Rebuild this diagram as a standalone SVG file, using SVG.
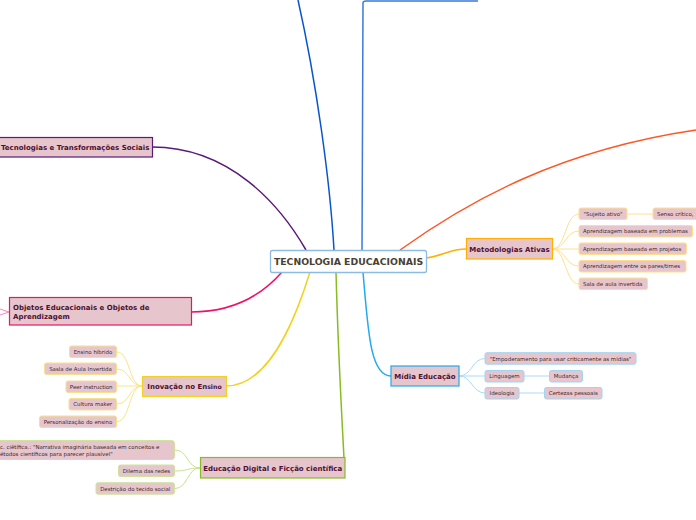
<svg xmlns="http://www.w3.org/2000/svg" width="696" height="520" viewBox="0 0 696 520">
<style>
.node{fill:#e6c6cc;stroke-width:1.2}
.t{font-family:"DejaVu Sans","Verdana",sans-serif;font-weight:bold;fill:#4d1030}
.c{fill:#e6c6cc;stroke-width:1}
.ct{font-family:"DejaVu Sans","Verdana",sans-serif;font-size:5.45px;fill:#3b2a2a;text-anchor:middle}
.conn{fill:none;stroke-width:1.5}
.sub{fill:none;stroke-width:1}
</style>
<rect width="696" height="520" fill="#ffffff"/>
<g id="connectors">
<path class="conn" stroke="#0a55cc" d="M334,250 C330,180 316,80 298,0"/>
<path class="conn" stroke="#3a7ad8" d="M362,250 L363,3 Q363,1 366,1 L478,1"/>
<path class="conn" stroke="#5a1a78" d="M152,147 C230,147 280,205 306,250"/>
<path class="conn" stroke="#ff5522" d="M400,250 C470,200 560,150 696,130"/>
<path class="conn" stroke="#ee1166" d="M282,272 C262,295 232,312 191,312"/>
<path class="conn" stroke="#f2d21e" d="M310,272 C292,330 266,386 226,386"/>
<path class="conn" stroke="#88bb22" d="M336,272 C338,350 342,420 344,458"/>
<path class="conn" stroke="#22aaee" d="M363,272 C368,330 370,376 391,376"/>
<path class="conn" stroke="#ffb000" d="M426,258 C442,256 450,249 466,249"/>
<g stroke="#ffe08c" class="sub">
<path d="M552,249 C566,249 565,214 579,214"/>
<path d="M552,249 C566,249 565,231 579,231"/>
<path d="M552,249 L579,249"/>
<path d="M552,249 C566,249 565,266 579,266"/>
<path d="M552,249 C566,249 565,284 579,284"/>
<path d="M627,214 L653,214"/>
</g>
<g stroke="#a8dcf5" class="sub">
<path d="M459,376 C472,376 472,358.5 485,358.5"/>
<path d="M459,376 L485,376"/>
<path d="M459,376 C472,376 472,393 485,393"/>
<path d="M524,376 L549,376"/>
<path d="M519,393 L544,393"/>
</g>
<g stroke="#f7e58c" class="sub">
<path d="M142,386 C129,386 130,352 117,352"/>
<path d="M142,386 C129,386 130,369 117,369"/>
<path d="M142,386 L117,386"/>
<path d="M142,386 C129,386 130,404 117,404"/>
<path d="M142,386 C129,386 130,421.5 117,421.5"/>
</g>
<g stroke="#c8e28e" class="sub">
<path d="M200,468 C187,468 188,450 175,450"/>
<path d="M200,468 C187,468 188,471 175,471"/>
<path d="M200,468 C187,468 188,488.5 175,488.5"/>
</g>
<g stroke="#f58ab8" class="sub">
<path d="M9,312 L0,309"/>
<path d="M9,312 L0,315"/>
</g>
</g>
<g id="center">
<rect x="270.5" y="250.5" width="156" height="22" rx="2" fill="#ffffff" stroke="#8cbce4" stroke-width="1.3"/>
<text x="348.5" y="265.2" class="t" font-size="9.3" style="fill:#4a3f33" text-anchor="middle">TECNOLOGIA EDUCACIONAIS</text>
</g>
<g id="tecnologias">
<rect x="-4" y="137.5" width="156.5" height="19.5" class="node" stroke="#5a1a78"/>
<text x="1" y="150" class="t" font-size="7">Tecnologias e Transformações Sociais</text>
</g>
<g id="objetos">
<rect x="9.5" y="297.5" width="182" height="27.5" class="node" stroke="#ee1166"/>
<text x="13" y="310" class="t" font-size="7">Objetos Educacionais e Objetos de</text>
<text x="13" y="318.5" class="t" font-size="7">Aprendizagem</text>
</g>
<g id="inovacao">
<rect x="142.5" y="376.5" width="84" height="20" class="node" stroke="#f2d21e"/>
<text x="184.5" y="389.2" class="t" font-size="7" text-anchor="middle">Inovação no En<tspan font-size="6.2">sino</tspan></text>
</g>
<g id="ensino-hibrido"><rect x="69.5" y="346" width="47" height="11.5" rx="2" class="c" stroke="#f7e08a"/><text x="93" y="353.8" class="ct">Ensino híbrido</text></g>
<g id="sasla"><rect x="44.5" y="363" width="72" height="11.5" rx="2" class="c" stroke="#f7e08a"/><text x="80.5" y="370.8" class="ct">Sasla de Aula Invertida</text></g>
<g id="peer"><rect x="66" y="381" width="50.5" height="11.5" rx="2" class="c" stroke="#f7e08a"/><text x="91.2" y="388.8" class="ct">Peer instruction</text></g>
<g id="cultura"><rect x="69" y="398.5" width="47.5" height="11.5" rx="2" class="c" stroke="#f7e08a"/><text x="92.7" y="406.3" class="ct">Cultura maker</text></g>
<g id="personalizacao"><rect x="39.5" y="416" width="77" height="11.5" rx="2" class="c" stroke="#f7e08a"/><text x="78" y="423.8" class="ct">Personalização do ensino</text></g>
<g id="educacao-digital">
<rect x="200.5" y="457.5" width="144.5" height="20.5" class="node" stroke="#88bb22"/>
<text x="272.7" y="470.5" class="t" font-size="7" text-anchor="middle">Educação Digital e Ficção científica</text>
</g>
<g id="fic-cientifica"><rect x="-10" y="440.5" width="184.5" height="19" rx="3" class="c" stroke="#cde49a"/>
<text x="0" y="449.3" class="ct" style="text-anchor:start">c. ciêtífica.: "Narrativa imaginária baseada em conceitos e</text>
<text x="0" y="456" class="ct" style="text-anchor:start">étodos científicos para parecer plausível"</text></g>
<g id="dilema"><rect x="118.5" y="465" width="56" height="11.5" rx="2" class="c" stroke="#cde49a"/><text x="146.5" y="472.8" class="ct">Dilema das redes</text></g>
<g id="destricao"><rect x="96" y="482.7" width="78.5" height="11.5" rx="2" class="c" stroke="#cde49a"/><text x="135.2" y="490.5" class="ct">Destrição do tecido social</text></g>
<g id="metodologias">
<rect x="466.5" y="238.5" width="86" height="20.5" class="node" stroke="#ffb000"/>
<text x="509.5" y="251.5" class="t" font-size="7" text-anchor="middle">Metodologias Ativas</text>
</g>
<g id="sujeito"><rect x="579" y="208" width="48" height="11.5" rx="2" class="c" stroke="#ffdf8a"/><text x="603" y="215.8" class="ct">"Sujeito ativo"</text></g>
<g id="senso"><rect x="653" y="208" width="60" height="11.5" rx="2" class="c" stroke="#ffdf8a"/><text x="657" y="215.8" class="ct" style="text-anchor:start">Senso crítico,</text></g>
<g id="problemas"><rect x="579" y="225.5" width="113.5" height="11.5" rx="2" class="c" stroke="#ffdf8a"/><text x="583" y="233.3" class="ct" style="text-anchor:start">Aprendizagem baseada em problemas</text></g>
<g id="projetos"><rect x="579" y="243" width="107.5" height="11.5" rx="2" class="c" stroke="#ffdf8a"/><text x="583" y="250.8" class="ct" style="text-anchor:start">Aprendizagem baseada em projetos</text></g>
<g id="pares"><rect x="579" y="260.5" width="107" height="11.5" rx="2" class="c" stroke="#ffdf8a"/><text x="583" y="268.3" class="ct" style="text-anchor:start">Aprendizagem entre os pares/times</text></g>
<g id="sala"><rect x="579" y="278" width="68.5" height="11.5" rx="2" class="c" stroke="#ffdf8a"/><text x="583" y="285.8" class="ct" style="text-anchor:start">Sala de aula invertida</text></g>
<g id="midia">
<rect x="391" y="366" width="68" height="20" class="node" stroke="#22aaee"/>
<text x="425" y="378.7" class="t" font-size="7" text-anchor="middle">Mídia Educação</text>
</g>
<g id="empoderamento"><rect x="485" y="352.7" width="151" height="11.5" rx="2" class="c" stroke="#9ed6f2"/><text x="560.5" y="360.5" class="ct">"Empoderamento para usar criticamente as mídias"</text></g>
<g id="linguagem"><rect x="485" y="370.5" width="39" height="11.5" rx="2" class="c" stroke="#9ed6f2"/><text x="504.5" y="378.3" class="ct">Linguagem</text></g>
<g id="mudanca"><rect x="549.5" y="370.5" width="33" height="11.5" rx="2" class="c" stroke="#9ed6f2"/><text x="566" y="378.3" class="ct">Mudança</text></g>
<g id="ideologia"><rect x="485" y="387.5" width="34" height="11.5" rx="2" class="c" stroke="#9ed6f2"/><text x="502" y="395.3" class="ct">Ideologia</text></g>
<g id="certezas"><rect x="544.5" y="387.5" width="57.5" height="11.5" rx="2" class="c" stroke="#9ed6f2"/><text x="573.2" y="395.3" class="ct">Certezas pessoais</text></g>
</svg>
